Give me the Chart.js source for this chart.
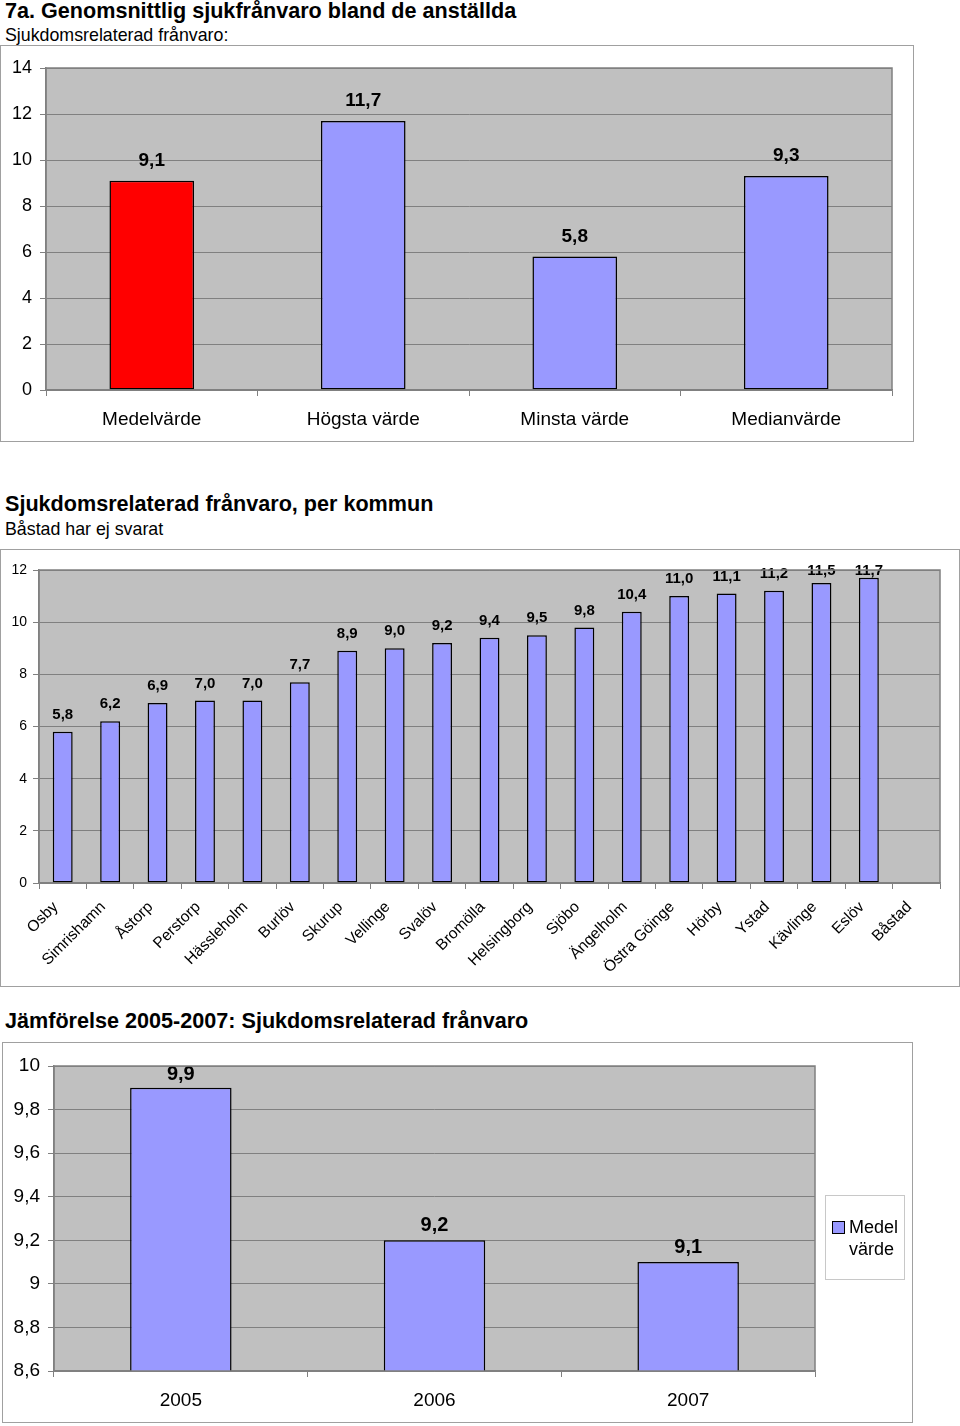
<!DOCTYPE html>
<html lang="sv">
<head>
<meta charset="utf-8">
<title>Sjukfrånvaro</title>
<script src="https://cdn.jsdelivr.net/npm/chart.js@4/dist/chart.umd.min.js"></script>
<style>
  body { margin: 0; width: 960px; height: 1426px; background: #fff; position: relative;
         font-family: "Liberation Sans", Arial, sans-serif; color: #000; overflow: hidden; }
  .txt { position: absolute; left: 5px; white-space: nowrap; }
  .rubrik { font-size: 21.6px; font-weight: bold; line-height: 22px; }
  .under  { font-size: 17.8px; line-height: 18px; }
  .ram { position: absolute; border: 1px solid #a0a0a0; box-sizing: border-box; }
  .ram canvas { position: absolute; left: 0; top: 0; }
  #legend { position: absolute; left: 825px; top: 1195px; width: 80px; height: 85px;
            border: 1px solid #c8c8c8; box-sizing: border-box; font-size: 18px; line-height: 22px; }
  #legend .ruta { position: absolute; left: 6px; top: 25px; width: 11px; height: 11px;
                  background: #9999ff; border: 1px solid #000; }
  #legend .text { position: absolute; left: 23px; top: 20px; }
</style>
</head>
<body>

<div class="txt rubrik" style="top:0px">7a. Genomsnittlig sjukfrånvaro bland de anställda</div>
<div class="txt under" style="top:26px">Sjukdomsrelaterad frånvaro:</div>
<div class="ram" style="left:0; top:45px; width:914px; height:397px">
  <canvas id="chart-sammanfattning"></canvas>
</div>

<div class="txt rubrik" style="top:493px">Sjukdomsrelaterad frånvaro, per kommun</div>
<div class="txt under" style="top:520px">Båstad har ej svarat</div>
<div class="ram" style="left:0; top:549px; width:960px; height:438px">
  <canvas id="chart-kommun"></canvas>
</div>

<div class="txt rubrik" style="top:1010px">Jämförelse 2005-2007: Sjukdomsrelaterad frånvaro</div>
<div class="ram" style="left:2px; top:1042px; width:911px; height:381px">
  <canvas id="chart-jamforelse"></canvas>
</div>
<div id="legend"><span class="ruta"></span><span class="text" id="legend-text"></span></div>

<script>
/* ── Data ─────────────────────────────────────────────── */
const sammanfattningEtiketter = ['Medelvärde', 'Högsta värde', 'Minsta värde', 'Medianvärde'];
const sammanfattningVarden    = [9.1, 11.7, 5.8, 9.3];

const kommuner = ['Osby', 'Simrishamn', 'Åstorp', 'Perstorp', 'Hässleholm', 'Burlöv', 'Skurup',
  'Vellinge', 'Svalöv', 'Bromölla', 'Helsingborg', 'Sjöbo', 'Ängelholm', 'Östra Göinge',
  'Hörby', 'Ystad', 'Kävlinge', 'Eslöv', 'Båstad'];
const kommunVarden = [5.8, 6.2, 6.9, 7.0, 7.0, 7.7, 8.9, 9.0, 9.2, 9.4, 9.5, 9.8, 10.4,
  11.0, 11.1, 11.2, 11.5, 11.7, null];

const ar       = ['2005', '2006', '2007'];
const arVarden = [9.9, 9.2, 9.1];
const legendEtikett = ['Medel', 'värde'];

/* ── Hjälpfunktioner ──────────────────────────────────── */
const FONT = '"Liberation Sans", Arial, sans-serif';
const BLA = '#9999ff';
const GRID = '#808080';

function kommatecken(v, dec) {
  return (dec == null ? String(Math.round(v * 10) / 10) : v.toFixed(dec)).replace('.', ',');
}

// Grå plotyta och ram runt den
const plotBakgrund = {
  id: 'plotBakgrund',
  beforeDraw(chart) {
    const { ctx, chartArea: a } = chart;
    ctx.save();
    ctx.fillStyle = '#c0c0c0';
    ctx.fillRect(a.left, a.top, a.right - a.left, a.bottom - a.top);
    ctx.restore();
  },
  afterDraw(chart) {
    const { ctx, chartArea: a } = chart;
    ctx.save();
    ctx.strokeStyle = GRID;
    ctx.lineWidth = 1.5;
    ctx.strokeRect(a.left, a.top, a.right - a.left, a.bottom - a.top);
    ctx.restore();
  }
};

// Värdeetiketter ovanför staplarna
const vardeEtiketter = {
  id: 'vardeEtiketter',
  afterDatasetsDraw(chart, args, opts) {
    const { ctx, chartArea: a } = chart;
    const meta = chart.getDatasetMeta(0);
    const data = chart.data.datasets[0].data;
    ctx.save();
    ctx.font = `bold ${opts.size}px ${FONT}`;
    ctx.fillStyle = '#000';
    ctx.textAlign = 'center';
    ctx.textBaseline = 'middle';
    meta.data.forEach((bar, i) => {
      if (data[i] == null) return;
      const y = Math.max(bar.y - opts.offset, a.top + opts.minTop);
      ctx.fillText(kommatecken(data[i], 1), bar.x, y);
    });
    ctx.restore();
  }
};

function stapelDiagram(id, w, h, cfg) {
  const canvas = document.getElementById(id);
  canvas.width = w;
  canvas.height = h;
  canvas.style.width = w + 'px';
  canvas.style.height = h + 'px';
  return new Chart(canvas, {
    type: 'bar',
    data: {
      labels: cfg.labels,
      datasets: [{
        label: cfg.serie,
        data: cfg.data,
        backgroundColor: cfg.farger || BLA,
        borderColor: '#000',
        borderWidth: 1.5,
        borderSkipped: false,
        categoryPercentage: 1,
        barPercentage: cfg.barPct,
      }],
    },
    options: {
      responsive: false,
      animation: false,
      devicePixelRatio: 1,
      layout: { padding: cfg.padding },
      plugins: {
        legend: { display: false },
        tooltip: { enabled: false },
        vardeEtiketter: cfg.etiketter,
      },
      scales: {
        x: {
          afterFit(s) { s.height = cfg.xHojd; },
          grid: { drawOnChartArea: false, color: GRID, tickLength: 6, offset: true },
          border: { color: GRID, width: 1.5 },
          ticks: {
            color: '#000',
            font: { family: FONT, size: cfg.xFont },
            padding: cfg.xPad,
            labelOffset: cfg.xOffset || 0,
            maxRotation: cfg.rot,
            minRotation: cfg.rot,
            autoSkip: false,
          },
        },
        y: {
          min: cfg.min,
          max: cfg.max,
          afterFit(s) { s.width = cfg.yBredd; },
          grid: { color: GRID, tickLength: 6, lineWidth: 1 },
          border: { color: GRID, width: 1.5 },
          ticks: {
            stepSize: cfg.steg,
            color: '#000',
            font: { family: FONT, size: cfg.yFont },
            padding: cfg.yPad,
            callback: v => kommatecken(v),
          },
        },
      },
    },
    plugins: [plotBakgrund, vardeEtiketter],
  });
}

/* ── Diagram ──────────────────────────────────────────── */
stapelDiagram('chart-sammanfattning', 912, 395, {
  labels: sammanfattningEtiketter,
  data: sammanfattningVarden,
  serie: 'Sjukdomsrelaterad frånvaro',
  farger: sammanfattningVarden.map((v, i) => i === 0 ? '#ff0000' : BLA),
  barPct: 0.4,
  padding: { top: 22, right: 21, left: 0, bottom: 0 },
  xHojd: 51, xFont: 19, xPad: 12, rot: 0,
  yBredd: 45, yFont: 18, yPad: 8,
  min: 0, max: 14, steg: 2,
  etiketter: { size: 19, offset: 20, minTop: 10 },
});

stapelDiagram('chart-kommun', 958, 436, {
  labels: kommuner,
  data: kommunVarden,
  serie: 'Sjukdomsrelaterad frånvaro',
  barPct: 0.42,
  padding: { top: 20, right: 19, left: 0, bottom: 0 },
  xHojd: 103, xFont: 15.6, xPad: 9, xOffset: -7, rot: 45,
  yBredd: 38, yFont: 14, yPad: 6,
  min: 0, max: 12, steg: 2,
  etiketter: { size: 15, offset: 17, minTop: 1 },
});

stapelDiagram('chart-jamforelse', 909, 379, {
  labels: ar,
  data: arVarden,
  serie: legendEtikett.join(' '),
  barPct: 0.4,
  padding: { top: 23, right: 97, left: 0, bottom: 0 },
  xHojd: 51, xFont: 19, xPad: 12, rot: 0,
  yBredd: 51, yFont: 19, yPad: 8,
  min: 8.6, max: 10, steg: 0.2,
  etiketter: { size: 20, offset: 15, minTop: 8 },
});

document.getElementById('legend-text').innerHTML = legendEtikett.join('<br>');
</script>
</body>
</html>
